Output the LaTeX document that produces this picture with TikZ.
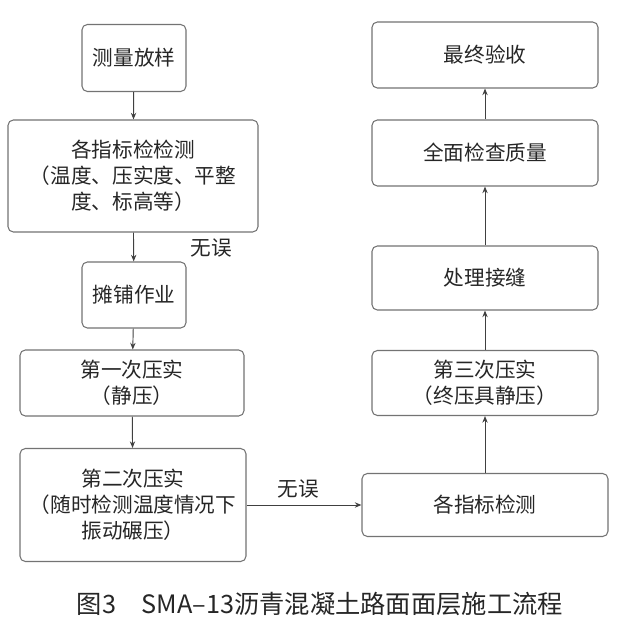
\documentclass[tikz,border=0pt]{standalone}
\usepackage{fontspec}
\setmainfont{Noto Sans CJK SC}
\usetikzlibrary{arrows.meta}
\tikzset{
  stepbox/.style={draw=black!55, line width=0.8pt, rounded corners=4pt, fill=white,
    align=center, font=\fontsize{15.5}{19.5}\selectfont, text=black!85, inner sep=0pt},
  flow/.style={draw=black!75, line width=0.7pt, -{Stealth[length=5pt,width=4pt]}}
}
\begin{document}
\begin{tikzpicture}[x=0.0264cm, y=-0.0264cm]
  \useasboundingbox (0,0) rectangle (628,630);
  % left column
  \node [stepbox, minimum width=104*0.0264cm, minimum height=67*0.0264cm] (survey) at (134,58) {测量放样};
  \node [stepbox, minimum width=250*0.0264cm, minimum height=112*0.0264cm] (check1) at (133,176) {各指标检检测\\（温度、压实度、平整\\度、标高等）};
  \node [stepbox, minimum width=104*0.0264cm, minimum height=66*0.0264cm] (pave) at (134,295) {摊铺作业};
  \node [stepbox, minimum width=224*0.0264cm, minimum height=66*0.0264cm] (press1) at (132,383) {第一次压实\\（静压）};
  \node [stepbox, minimum width=226*0.0264cm, minimum height=113*0.0264cm] (press2) at (133,505) {第二次压实\\（随时检测温度情况下\\振动碾压）};
  % right column
  \node [stepbox, minimum width=246*0.0264cm, minimum height=63*0.0264cm] (check2) at (485,505) {各指标检测};
  \node [stepbox, minimum width=226*0.0264cm, minimum height=65*0.0264cm] (press3) at (485,383) {第三次压实\\（终压具静压）};
  \node [stepbox, minimum width=226*0.0264cm, minimum height=64*0.0264cm] (joint) at (485,278) {处理接缝};
  \node [stepbox, minimum width=226*0.0264cm, minimum height=66*0.0264cm] (quality) at (485,153) {全面检查质量};
  \node [stepbox, minimum width=226*0.0264cm, minimum height=66*0.0264cm] (accept) at (485,55) {最终验收};
  % connectors
  \draw [flow] (survey) -- (check1);
  \draw [flow] (check1) -- (pave);
  \draw [flow] (pave) -- (press1);
  \draw [flow] (press1) -- (press2);
  \draw [flow] (press2) -- (check2);
  \draw [flow] (check2) -- (press3);
  \draw [flow] (press3) -- (joint);
  \draw [flow] (joint) -- (quality);
  \draw [flow] (quality) -- (accept);
  \node [font=\fontsize{15.5}{18}\selectfont, text=black!85] (ok1) at (211,248) {无误};
  \node [font=\fontsize{15.5}{18}\selectfont, text=black!85] (ok2) at (298,489) {无误};
  \node [font=\fontsize{19}{22}\selectfont, text=black!85] (caption) at (320,604) {图3\quad SMA–13沥青混凝土路面面层施工流程};
\end{tikzpicture}
\end{document}
